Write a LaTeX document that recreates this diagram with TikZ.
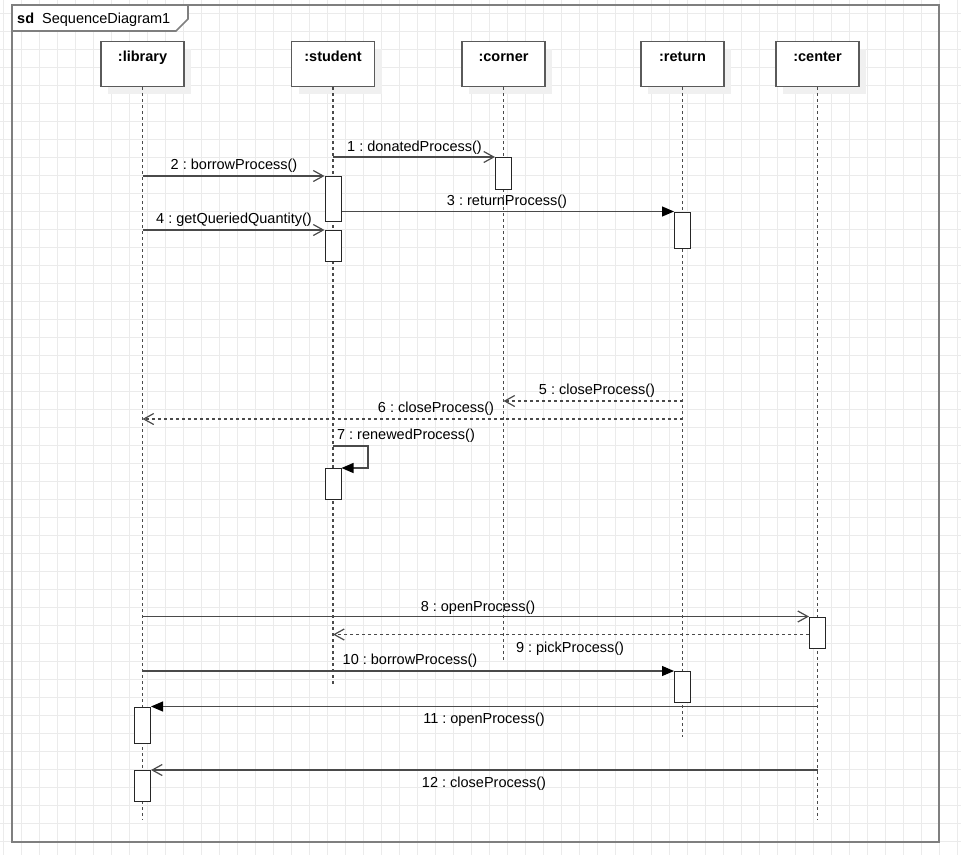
\documentclass[tikz,border=0pt]{standalone}
\usepackage{fontspec}
\setmainfont{Liberation Sans}
\usetikzlibrary{arrows.meta,shadows}
\definecolor{gridgray}{HTML}{EBEBEB}
\definecolor{framegray}{HTML}{7F7F7F}
\definecolor{linegray}{HTML}{4A4A4A}
\definecolor{boxgray}{HTML}{5A5A5A}
\frenchspacing

\begin{document}
\begin{tikzpicture}[x=1pt,y=-1pt,
  font=\fontsize{14.5}{17}\selectfont,
  gridline/.style={gridgray, line width=0.9pt},
  frame/.style={draw=framegray, line width=1.6pt},
  head/.style={draw=boxgray, fill=white, line width=1.2pt, anchor=north,
    minimum width=83pt, minimum height=45pt,
    drop shadow={shadow xshift=7pt, shadow yshift=-7pt, draw=none, fill=black!6, opacity=1}},
  headlbl/.style={font=\fontsize{14.5}{17}\selectfont\bfseries, anchor=base, inner sep=0pt},
  life/.style={linegray, line width=1.1pt, dash pattern=on 3pt off 3pt},
  act/.style={draw=black!85, fill=white, line width=1pt, anchor=north,
    minimum width=16pt, inner sep=0pt},
  msg/.style={linegray, line width=1.2pt},
  async/.style={msg, -{Straight Barb[length=10pt,width=11pt]}},
  call/.style={msg, -{Triangle[length=12pt,width=10pt,black]}},
  reply/.style={msg, dash pattern=on 3pt off 3pt, -{Straight Barb[length=10pt,width=11pt]}},
  lbl/.style={anchor=base, inner sep=0pt}]
  \useasboundingbox (0,0) rectangle (961,855);

  % background grid
  \foreach \gx in {3,21,...,957} \draw[gridline] (\gx,0) -- (\gx,855);
  \foreach \gy in {13,31,...,841} \draw[gridline] (0,\gy) -- (961,\gy);

  % frame
  \draw[frame] (12,5) rectangle (939,842);
  \draw[frame, fill=white] (12,5) -- (188,5) -- (188,19) -- (176,31) -- (12,31) -- cycle;
  \node[anchor=base west, inner sep=0pt] (sd) at (17,23) {\textbf{sd}\hspace{4pt} SequenceDiagram1};

  % lifeline heads
  \node[head] (lib) at (142.5,41) {};
  \node[head] (stu) at (333,41) {};
  \node[head] (cor) at (503.5,41) {};
  \node[head] (ret) at (682.5,41) {};
  \node[head] (cen) at (817.5,41) {};
  \node[headlbl] (liblbl) at ([yshift=-20pt]lib.north) {:library};
  \node[headlbl] (stulbl) at ([yshift=-20pt]stu.north) {:student};
  \node[headlbl] (corlbl) at ([yshift=-20pt]cor.north) {:corner};
  \node[headlbl] (retlbl) at ([yshift=-20pt]ret.north) {:return};
  \node[headlbl] (cenlbl) at ([yshift=-20pt]cen.north) {:center};

  % lifelines
  \coordinate (libend) at (142.5,820);
  \coordinate (stuend) at (333,685);
  \coordinate (corend) at (503.5,662);
  \coordinate (retend) at (682.5,737);
  \coordinate (cenend) at (817.5,820);
  \draw[life] (lib) -- (libend);
  \draw[life] (stu) -- (stuend);
  \draw[life] (cor) -- (corend);
  \draw[life] (ret) -- (retend);
  \draw[life] (cen) -- (cenend);

  % activations
  \node[act, minimum height=32pt] (cor1) at (503.5,157) {};
  \node[act, minimum height=45pt] (stu1) at (333,176) {};
  \node[act, minimum height=31pt] (stu2) at (333,230) {};
  \node[act, minimum height=36pt] (ret1) at (682.5,211.5) {};
  \node[act, minimum height=31pt] (stu3) at (333,468) {};
  \node[act, minimum height=31.5pt] (cen1) at (817.5,616.5) {};
  \node[act, minimum height=31pt] (ret2) at (682.5,671) {};
  \node[act, minimum height=36pt] (lib1) at (142.5,706.5) {};
  \node[act, minimum height=31pt] (lib2) at (142.5,770) {};

  % message heights without a box
  \coordinate (y5) at (0,401);
  \coordinate (y6) at (0,419);
  \coordinate (y7) at (0,446);
  \coordinate (y9) at (0,634.5);

  % messages
  \draw[async] (stu |- cor1.north) -- (cor1.north west);
  \draw[async] (lib |- stu1.north) -- (stu1.north west);
  \draw[call] (stu1.east |- ret1.north) -- (ret1.north west);
  \draw[async] (lib |- stu2.north) -- (stu2.north west);
  \draw[reply] (ret |- y5) -- (cor |- y5);
  \draw[reply] (ret |- y6) -- (lib |- y6);
  \draw[call] (stu |- y7) -- ++(35,0) |- (stu3.north east);
  \draw[async] (lib |- cen1.north) -- (cen1.north west);
  \draw[reply] (cen1.west |- y9) -- (stu |- y9);
  \draw[call] (lib |- ret2.north) -- (ret2.north west);
  \draw[call] (cen |- lib1.north) -- (lib1.north east);
  \draw[async] (cen |- lib2.north) -- (lib2.north east);

  % message labels
  \node[lbl] (m1) at (414.5,151) {1 : donatedProcess()};
  \node[lbl] (m2) at (234,169) {2 : borrowProcess()};
  \node[lbl] (m3) at (507,205) {3 : returnProcess()};
  \node[lbl] (m4) at (234,223.5) {4 : getQueriedQuantity()};
  \node[lbl] (m5) at (597,394.5) {5 : closeProcess()};
  \node[lbl] (m6) at (436,412) {6 : closeProcess()};
  \node[lbl] (m7) at (406,439) {7 : renewedProcess()};
  \node[lbl] (m8) at (478,611) {8 : openProcess()};
  \node[lbl] (m9) at (570,652) {9 : pickProcess()};
  \node[lbl] (m10) at (410,664.5) {10 : borrowProcess()};
  \node[lbl] (m11) at (484,723.5) {11 : openProcess()};
  \node[lbl] (m12) at (484,787) {12 : closeProcess()};
\end{tikzpicture}
\end{document}
